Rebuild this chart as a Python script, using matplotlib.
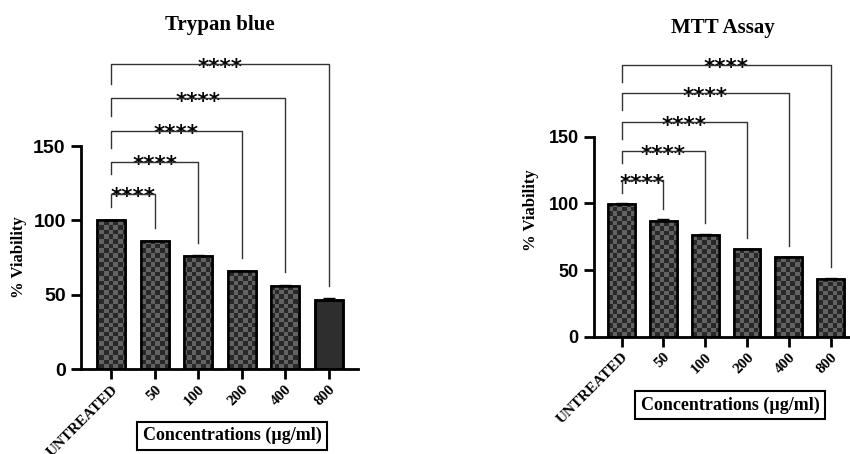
import numpy as np
import matplotlib
matplotlib.use('Agg')
from matplotlib import pyplot as plt

categories = ['UNTREATED', '50', '100', '200', '400', '800']

trypan_vals = [100, 86, 76, 65.8, 56, 46.6]
trypan_err = [0.3, 0.5, 0.6, 0.5, 0.7, 1.0]
mtt_vals = [99.8, 87, 76.5, 65.5, 59.5, 43.5]
mtt_err = [0.4, 1.0, 0.5, 0.4, 0.4, 0.4]

# bracket heights (level, left drop end) and right-drop end, per comparison
trypan_levels = [118, 139.5, 160.5, 182.5, 205]
trypan_left_ends = [109, 131, 148.5, 170, 192]
trypan_right_ends = [95, 85, 75, 65, 56]
mtt_levels = [117.5, 139.3, 161, 182.5, 204]
mtt_left_ends = [108, 130, 148, 170, 191]
mtt_right_ends = [96, 85.5, 74, 68, 52.5]

SERIF = 'Liberation Serif'
SANS = 'Liberation Sans'

fig = plt.figure(figsize=(8.5, 4.54), dpi=100)


def checker(ax, bar, cell=4.6):
    fig.canvas.draw()
    bb = ax.get_window_extent()
    nx = int(bb.width / cell)
    ny = int(bb.height / cell)
    board = (np.add.outer(np.arange(ny), np.arange(nx)) % 2).astype(float)
    im = ax.imshow(board, cmap=matplotlib.colors.ListedColormap(['#282828', '#626262']),
                   extent=[0, 1, 0, 1], transform=ax.transAxes, interpolation='nearest',
                   aspect='auto', zorder=2)
    im.set_clip_path(bar)


def panel(rect, xlim, title, vals, errs, levels, lends, rends, label_xy, box_xy,
          solid_last, tsize):
    ax = fig.add_axes(rect)
    x = np.arange(len(categories))
    ax.set_xlim(*xlim)
    ax.set_ylim(0, 215)
    bars = ax.bar(x, vals, width=0.64, color='#2e2e2e', edgecolor='black',
                  linewidth=1.8, zorder=1)
    for i, b in enumerate(bars):
        if solid_last and i == len(bars) - 1:
            continue
        checker(ax, b)
    # redraw the outlines over the pattern
    ax.bar(x, vals, width=0.64, color='none', edgecolor='black', linewidth=1.8, zorder=3)
    ax.errorbar(x, vals, yerr=[np.zeros(len(errs)), errs], fmt='none', ecolor='black',
                elinewidth=1, capsize=4, capthick=1, zorder=4)

    for j, (lv, le, re) in enumerate(zip(levels, lends, rends)):
        xr = j + 1
        ax.plot([0, 0, xr, xr], [le, lv, lv, re], color='#333333', lw=1.0,
                clip_on=False, zorder=5)
        ax.annotate('****', xy=(xr / 2, lv), xytext=(0, -7), textcoords='offset points',
                    ha='center', va='baseline', fontsize=15.5, fontweight='bold',
                    family='DejaVu Sans', annotation_clip=False)

    for s in ['top', 'right']:
        ax.spines[s].set_visible(False)
    ax.spines['left'].set_bounds(0, 150)
    ax.spines['left'].set_linewidth(2)
    ax.spines['bottom'].set_linewidth(2)
    ax.set_yticks([0, 50, 100, 150])
    ax.tick_params(axis='y', length=7, width=2, pad=4)
    ax.tick_params(axis='x', length=7, width=2, pad=3)
    for t in ax.get_yticklabels():
        t.set_fontfamily(SANS)
        t.set_fontweight('bold')
        t.set_fontsize(tsize)
    ax.set_xticks(x)
    ax.set_xticklabels(categories, rotation=45, ha='right', rotation_mode='anchor',
                       fontfamily=SERIF, fontweight='bold', fontsize=11)

    ax.set_title(title, fontfamily=SERIF, fontweight='bold', fontsize=15, pad=0,
                 y=1.06)
    ax.set_ylabel('% Viability', fontfamily=SERIF, fontweight='bold', fontsize=12)
    ax.yaxis.set_label_coords(*label_xy)
    fig.text(box_xy[0], box_xy[1], 'Concentrations (\u00b5g/ml)', ha='center', va='center',
             fontfamily=SERIF, fontweight='bold', fontsize=13,
             bbox=dict(boxstyle='square,pad=0.3', facecolor='white', edgecolor='black',
                       linewidth=1.5))
    return ax


ax1 = panel([0.0953, 0.187, 0.326, 0.704], (-0.69, 5.67), 'Trypan blue',
            trypan_vals, trypan_err, trypan_levels, trypan_left_ends, trypan_right_ends,
            (-0.195, 0.35), (0.273, 0.040), True, 14)
ax2 = panel([0.6988, 0.2584, 0.303, 0.6314], (-0.66, 5.5), 'MTT Assay',
            mtt_vals, mtt_err, mtt_levels, mtt_left_ends, mtt_right_ends,
            (-0.215, 0.44), (0.859, 0.108), False, 13)

fig.savefig('out.png', dpi=100)
